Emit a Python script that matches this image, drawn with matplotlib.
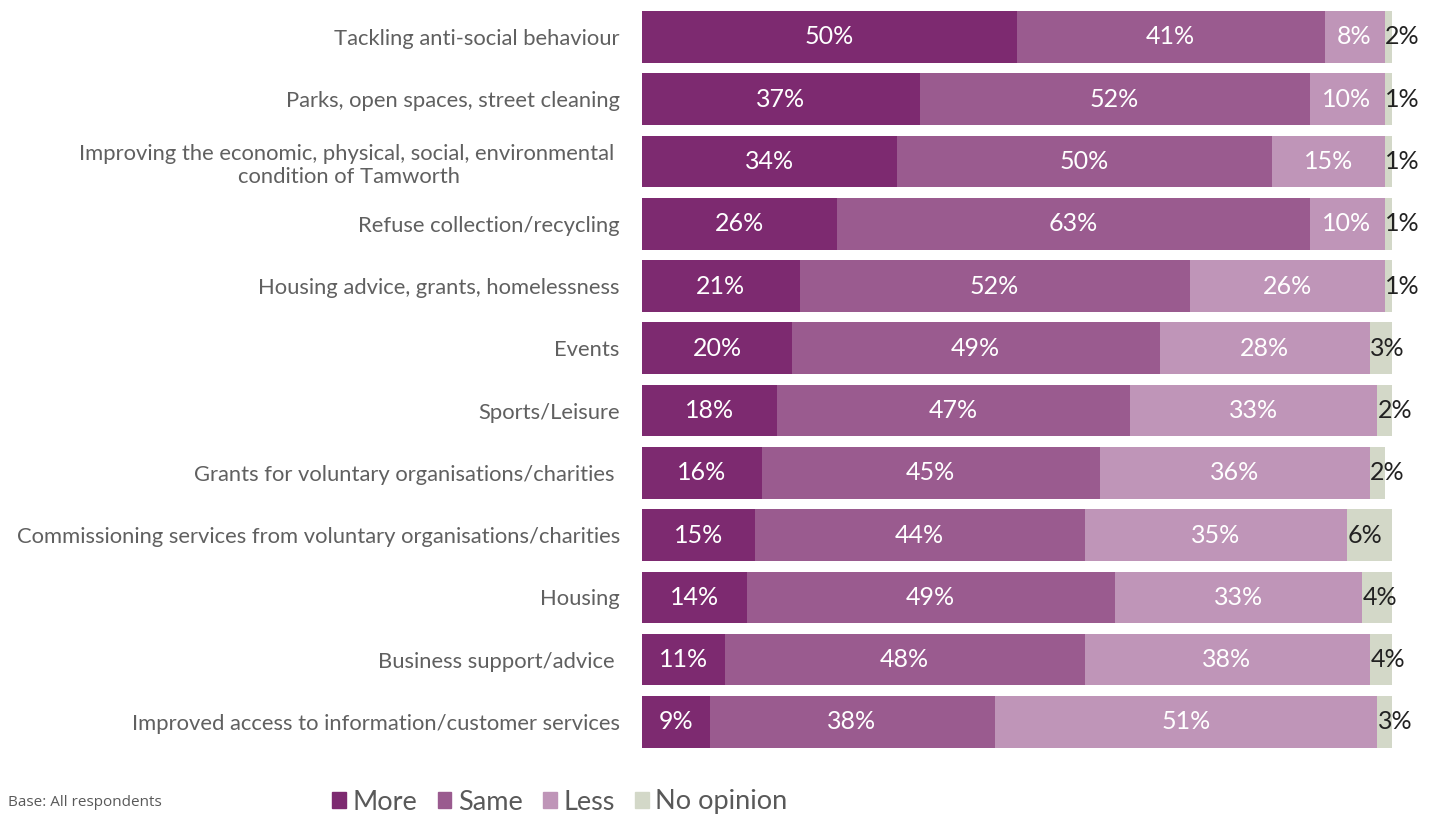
import matplotlib
matplotlib.use("Agg")
import matplotlib.pyplot as plt
from matplotlib.patches import Patch

categories = [
    "Tackling anti-social behaviour",
    "Parks, open spaces, street cleaning",
    "Improving the economic, physical, social, environmental \ncondition of Tamworth",
    "Refuse collection/recycling",
    "Housing advice, grants, homelessness",
    "Events",
    "Sports/Leisure",
    "Grants for voluntary organisations/charities ",
    "Commissioning services from voluntary organisations/charities",
    "Housing",
    "Business support/advice ",
    "Improved access to information/customer services",
]
more = [50, 37, 34, 26, 21, 20, 18, 16, 15, 14, 11, 9]
same = [41, 52, 50, 63, 52, 49, 47, 45, 44, 49, 48, 38]
less = [8, 10, 15, 10, 26, 28, 33, 36, 35, 33, 38, 51]
no_opinion = [2, 1, 1, 1, 1, 3, 2, 2, 6, 4, 4, 3]

series = [("More", more, "#7d2a70"),
          ("Same", same, "#9a5b8f"),
          ("Less", less, "#bf95b8"),
          ("No opinion", no_opinion, "#d3d8c8")]

plt.rcParams["font.family"] = ["Lato", "DejaVu Sans"]

fig = plt.figure(figsize=(14.38, 8.16), dpi=100)
ax = fig.add_axes([642 / 1438, 1 - 753 / 816, 750 / 1438, (753 - 5.85) / 816])

y = list(range(len(categories)))
left = [0] * len(categories)
for name, vals, color in series:
    ax.barh(y, vals, left=left, height=0.83, color=color, label=name)
    for i, v in enumerate(vals):
        if name == "No opinion":
            ax.text(left[i] + 0.1, i, f"{v}%", ha="left", va="center",
                    fontsize=18, color="#222222")
        else:
            ax.text(left[i] + v / 2, i, f"{v}%", ha="center", va="center",
                    fontsize=18, color="white")
    left = [l + v for l, v in zip(left, vals)]

ax.set_xlim(0, 100)
ax.set_ylim(len(categories) - 0.5, -0.5)
ax.set_yticks(y)
ax.set_yticklabels(categories, fontsize=15.8, color="#606060", multialignment="center")
ax.tick_params(axis="y", length=0, pad=16)
ax.set_xticks([])
for s in ax.spines.values():
    s.set_visible(False)

handles = [Patch(color=c, label=n) for n, _, c in series]
fig.legend(handles=handles, loc="center left", bbox_to_anchor=(308 / 1438, 1 - 802 / 816),
           ncol=4, frameon=False, fontsize=19.5, handlelength=0.5, handleheight=0.5,
           handletextpad=0.25, columnspacing=0.75, labelcolor="#595959")

fig.text(8 / 1438, 1 - 802 / 816, "Base: All respondents", ha="left", va="center",
         fontsize=11, color="#595959", family=["Open Sans", "DejaVu Sans"])

fig.savefig("out.png", dpi=100)
